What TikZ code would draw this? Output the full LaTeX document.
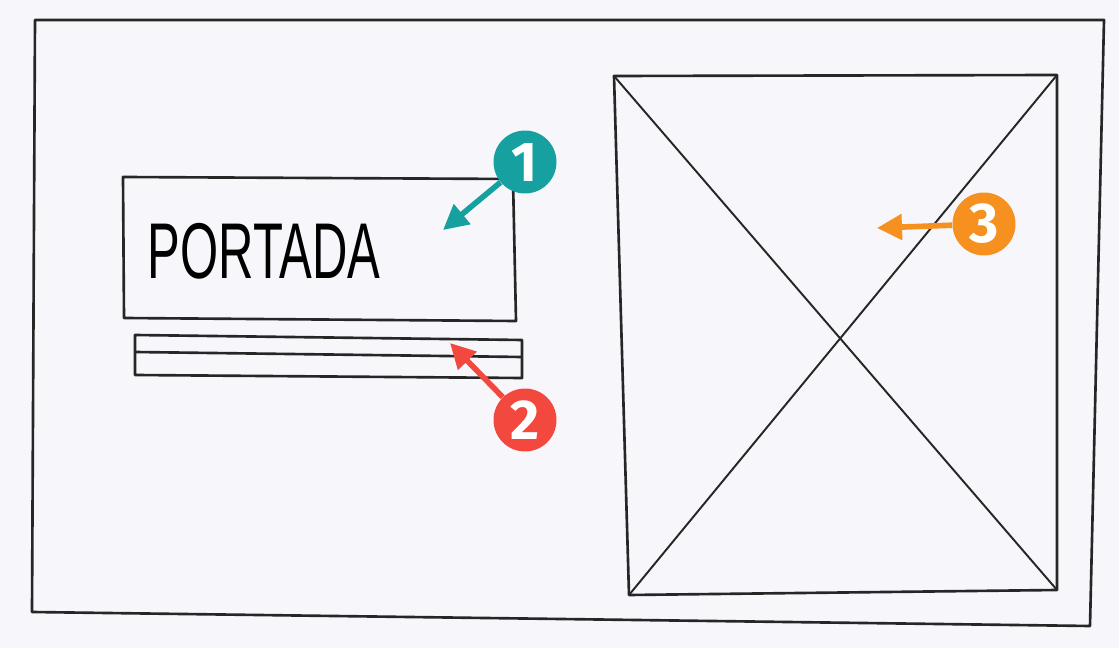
\documentclass[tikz,border=0pt]{standalone}
\usepackage{fontspec}
\setmainfont{Liberation Sans}
\newfontfamily\badgefont{Fira Sans}
\usetikzlibrary{arrows.meta,positioning}
\definecolor{tealmark}{HTML}{17A0A0}
\definecolor{redmark}{HTML}{F2483E}
\definecolor{orangemark}{HTML}{F6901E}
\definecolor{paper}{HTML}{F7F7FB}

\begin{document}
\begin{tikzpicture}[
  x=0.02cm, y=-0.02cm,
  sketch/.style={draw=black!85, line width=1.5pt, line join=round},
  badge/.style={circle, minimum size=1.26cm, inner sep=0pt, text=white,
    font=\badgefont\bfseries\fontsize{32}{32}\selectfont},
  pointer/.style={line width=3.2pt, -{Triangle[length=0.5cm,width=0.5cm]}},
  >=Stealth]
  \useasboundingbox (0,0) rectangle (1119,648);
  \fill[paper] (0,0) rectangle (1119,648);
  % page frame
  \draw[sketch] (35,20) -- (1104,20) -- (1090,626) -- (32,612) -- cycle;
  % title block and bar
  \draw[sketch] (123,177) -- (513,179) -- (516,321) -- (124,318) -- cycle;
  \node (title) [xscale=0.62, transform shape, font=\fontsize{45}{45}\selectfont]
    at (264,251) {PORTADA};
  \draw[sketch] (135,335) -- (522,340) -- (522,378) -- (135,375) -- cycle;
  \draw[sketch] (135,352) -- (522,357);
  % image placeholder
  \draw[sketch] (614,76) -- (1057,75) -- (1057,590) -- (629,595) -- cycle;
  \draw[sketch, line width=1.1pt] (614,76) -- (1057,590);
  \draw[sketch, line width=1.1pt] (1057,75) -- (629,595);
  % badges
  \node (b1) [badge, fill=tealmark] at (525,162) {1};
  \node (b2) [badge, fill=redmark] at (525,420) {2};
  \node (b3) [badge, fill=orangemark] at (984,224) {3};
  \coordinate (a1) at (443,230);
  \coordinate (a2) at (450,343);
  \coordinate (a3) at (877,228);
  \draw[pointer, tealmark] (b1) -- (a1);
  \draw[pointer, redmark] (b2) -- (a2);
  \draw[pointer, orangemark] (b3) -- (a3);
\end{tikzpicture}
\end{document}
